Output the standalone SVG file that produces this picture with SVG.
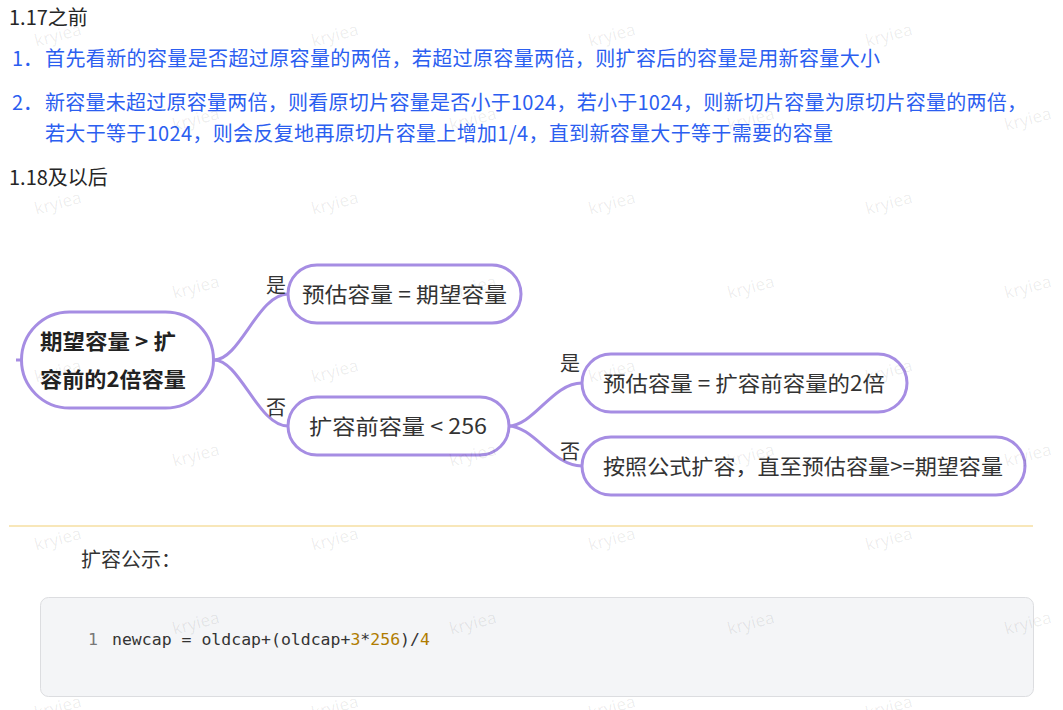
<svg xmlns="http://www.w3.org/2000/svg" width="1063" height="710" viewBox="0 0 1063 710">
<style>
.t{font-family:'Noto Sans CJK SC','Noto Sans',sans-serif;font-size:20px;fill:#262626}
.b{fill:#2b5ef0}
.node rect{fill:#fff;stroke:#a68de3;stroke-width:3}
.nt{font-family:'Noto Sans CJK SC','Noto Sans',sans-serif;font-size:21px;fill:#333}
.bold{font-weight:bold;fill:#222}
.lbl{font-family:'Noto Sans CJK SC',sans-serif;font-size:20px;fill:#333}
.conn path{fill:none;stroke:#a68de3;stroke-width:3}
.wm{font-family:'Open Sans','Noto Sans',sans-serif;font-size:17px;fill:#000;fill-opacity:0.08}
.code{font-family:'DejaVu Sans Mono','Liberation Mono',monospace;font-size:16.5px;fill:#333}
.num{fill:#b07c00}
</style>
<rect width="1063" height="710" fill="#fff"/>

<g id="intro">
<text class="t" x="9" y="25">1.17之前</text>
<text class="t b" x="12" y="66">1．</text>
<text class="t b" x="45" y="66" textLength="835" lengthAdjust="spacing">首先看新的容量是否超过原容量的两倍，若超过原容量两倍，则扩容后的容量是用新容量大小</text>
<text class="t b" x="12" y="110">2．</text>
<text class="t b" x="45" y="110" textLength="982" lengthAdjust="spacing">新容量未超过原容量两倍，则看原切片容量是否小于1024，若小于1024，则新切片容量为原切片容量的两倍，</text>
<text class="t b" x="45" y="141" textLength="788" lengthAdjust="spacing">若大于等于1024，则会反复地再原切片容量上增加1/4，直到新容量大于等于需要的容量</text>
<text class="t" x="9" y="185">1.18及以后</text>
</g>

<g id="connectors" class="conn">
<path d="M16,360 H22"/>
<path d="M214,360 C240,360 258,294 288,294"/>
<path d="M214,360 C240,360 258,426 288,426"/>
<path d="M508,426 C534,426 552,383 582,383"/>
<path d="M508,426 C534,426 552,466 582,466"/>
</g>

<g id="root" class="node">
<rect x="21.5" y="312" width="192" height="96" rx="48"/>
<text class="nt bold" x="40" y="349" textLength="136" lengthAdjust="spacingAndGlyphs">期望容量 &gt; 扩</text>
<text class="nt bold" x="40" y="387" textLength="146" lengthAdjust="spacingAndGlyphs">容前的2倍容量</text>
</g>

<g id="n1" class="node">
<rect x="288" y="265" width="233" height="58" rx="29"/>
<text class="nt" x="302" y="302" textLength="205" lengthAdjust="spacingAndGlyphs">预估容量 = 期望容量</text>
</g>
<text id="l1" class="lbl" x="266" y="293">是</text>

<g id="n2" class="node">
<rect x="288" y="397" width="221" height="58" rx="29"/>
<text class="nt" x="309" y="434" textLength="178" lengthAdjust="spacingAndGlyphs">扩容前容量 &lt; 256</text>
</g>
<text id="l2" class="lbl" x="266" y="415">否</text>

<g id="n3" class="node">
<rect x="582" y="354" width="325" height="58" rx="29"/>
<text class="nt" x="603" y="391" textLength="282" lengthAdjust="spacingAndGlyphs">预估容量 = 扩容前容量的2倍</text>
</g>
<text id="l3" class="lbl" x="560" y="371">是</text>

<g id="n4" class="node">
<rect x="582" y="437" width="443" height="58" rx="29"/>
<text class="nt" x="603" y="474" textLength="400" lengthAdjust="spacingAndGlyphs">按照公式扩容，直至预估容量&gt;=期望容量</text>
</g>
<text id="l4" class="lbl" x="560" y="459">否</text>

<g id="formula">
<line x1="9" y1="526" x2="1033" y2="526" stroke="#f8e7b9" stroke-width="2"/>
<text class="t" x="81" y="567" style="fill:#333">扩容公示：</text>
<rect x="40.5" y="597.5" width="993" height="99" rx="8" fill="#f4f5f7" stroke="#dcdde0"/>
<text class="code" x="88" y="645" style="fill:#777">1</text>
<text class="code" x="112" y="645">newcap = oldcap+(oldcap+<tspan class="num">3</tspan>*<tspan class="num">256</tspan>)/<tspan class="num">4</tspan></text>
</g>

<g id="watermarks" class="wm" text-anchor="middle">
<text transform="translate(58,36) rotate(-15)" y="5">kryiea</text>
<text transform="translate(335,36) rotate(-15)" y="5">kryiea</text>
<text transform="translate(612,36) rotate(-15)" y="5">kryiea</text>
<text transform="translate(889,36) rotate(-15)" y="5">kryiea</text>
<text transform="translate(196,120) rotate(-15)" y="5">kryiea</text>
<text transform="translate(473,120) rotate(-15)" y="5">kryiea</text>
<text transform="translate(751,120) rotate(-15)" y="5">kryiea</text>
<text transform="translate(1028,120) rotate(-15)" y="5">kryiea</text>
<text transform="translate(58,204) rotate(-15)" y="5">kryiea</text>
<text transform="translate(335,204) rotate(-15)" y="5">kryiea</text>
<text transform="translate(612,204) rotate(-15)" y="5">kryiea</text>
<text transform="translate(889,204) rotate(-15)" y="5">kryiea</text>
<text transform="translate(196,288) rotate(-15)" y="5">kryiea</text>
<text transform="translate(473,288) rotate(-15)" y="5">kryiea</text>
<text transform="translate(751,288) rotate(-15)" y="5">kryiea</text>
<text transform="translate(1028,288) rotate(-15)" y="5">kryiea</text>
<text transform="translate(58,372) rotate(-15)" y="5">kryiea</text>
<text transform="translate(335,372) rotate(-15)" y="5">kryiea</text>
<text transform="translate(612,372) rotate(-15)" y="5">kryiea</text>
<text transform="translate(889,372) rotate(-15)" y="5">kryiea</text>
<text transform="translate(196,456) rotate(-15)" y="5">kryiea</text>
<text transform="translate(473,456) rotate(-15)" y="5">kryiea</text>
<text transform="translate(751,456) rotate(-15)" y="5">kryiea</text>
<text transform="translate(1028,456) rotate(-15)" y="5">kryiea</text>
<text transform="translate(58,540) rotate(-15)" y="5">kryiea</text>
<text transform="translate(335,540) rotate(-15)" y="5">kryiea</text>
<text transform="translate(612,540) rotate(-15)" y="5">kryiea</text>
<text transform="translate(889,540) rotate(-15)" y="5">kryiea</text>
<text transform="translate(196,624) rotate(-15)" y="5">kryiea</text>
<text transform="translate(473,624) rotate(-15)" y="5">kryiea</text>
<text transform="translate(751,624) rotate(-15)" y="5">kryiea</text>
<text transform="translate(1028,624) rotate(-15)" y="5">kryiea</text>
<text transform="translate(58,708) rotate(-15)" y="5">kryiea</text>
<text transform="translate(335,708) rotate(-15)" y="5">kryiea</text>
<text transform="translate(612,708) rotate(-15)" y="5">kryiea</text>
<text transform="translate(889,708) rotate(-15)" y="5">kryiea</text>
</g>
</svg>
